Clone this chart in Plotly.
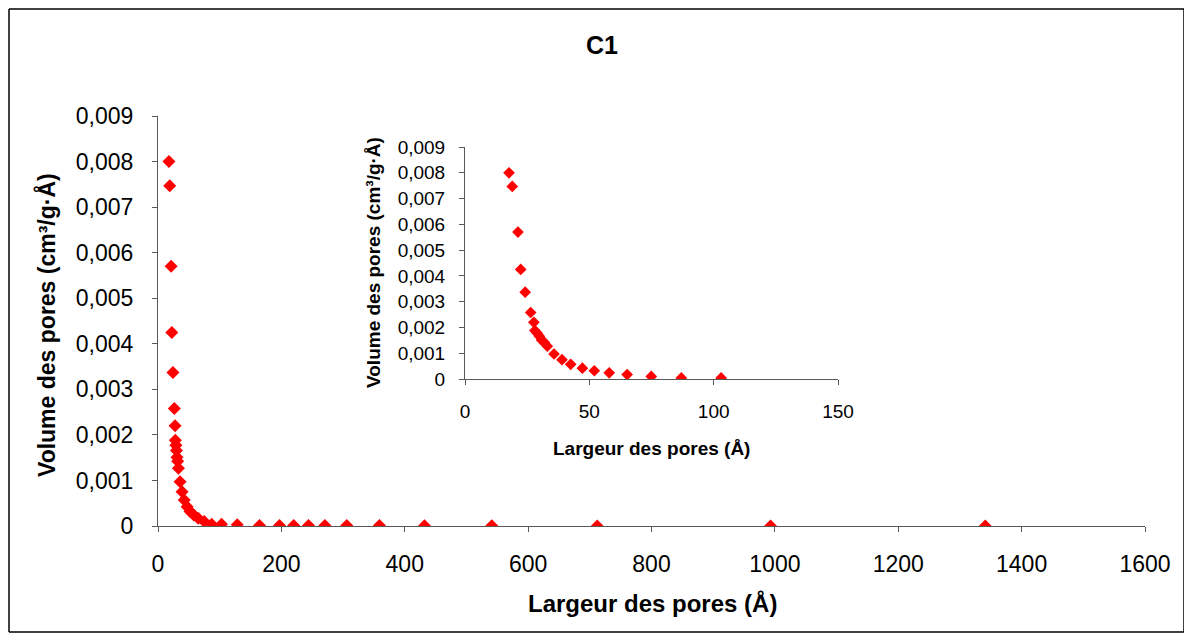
import plotly.graph_objects as go

# ---- data ----
pore_width = [17.7, 19.0, 21.3, 22.4, 24.2, 26.4, 27.7, 28.1, 29.1, 29.9, 30.8, 31.9,
              33.1, 35.8, 39.0, 42.5, 47.2, 52.0, 58.0, 65.2, 74.9, 87.0, 103.0,
              128.5, 164.5, 197.0, 220.0, 244.0, 270.5, 306.0, 359.0, 432.0, 541.0,
              712.0, 993.0, 1341.0]
pore_volume = [0.00800, 0.00747, 0.00570, 0.00425, 0.00337, 0.00258, 0.00220, 0.00188,
               0.00177, 0.00166, 0.00151, 0.00142, 0.00127, 0.00097, 0.00075, 0.00057,
               0.00042, 0.00032, 0.00024, 0.00017, 0.00010, 0.00004, 0.00004,
               0.00003, 0.00001, 0.00001, 0.00001, 0.00001, 0.00001, 0.00001,
               0.00001, 0.000005, 0.000003, 0.000002, 0.000001, 0.000001]
inset_max_width = 110  # the inset only shows the first points

y_tickvals = [0, 0.001, 0.002, 0.003, 0.004, 0.005, 0.006, 0.007, 0.008, 0.009]
y_ticktext = ["0", "0,001", "0,002", "0,003", "0,004", "0,005", "0,006", "0,007", "0,008", "0,009"]
x_main_ticks = [0, 200, 400, 600, 800, 1000, 1200, 1400, 1600]
x_inset_ticks = [0, 50, 100, 150]

title_text = "C1"
x_title = "Largeur des pores (Å)"
y_title = "Volume des pores (cm³/g·Å)"

inset_x = [w for w in pore_width if w <= inset_max_width]
inset_y = [v for w, v in zip(pore_width, pore_volume) if w <= inset_max_width]

# ---- layout geometry (pixels, page has an 8px body margin) ----
OFF = 8
W, H = 1192 - OFF, 637 - OFF
L, R, T, B = 158 - OFF, 1145 - OFF, 116 - OFF, 526 - OFF
pw, ph = R - L, B - T


def px(x):
    return (x - OFF - L) / pw


def py(y):
    return (B - (y - OFF)) / ph


FONT = "Liberation Sans, Arial, sans-serif"
AX = "#595959"

fig = go.Figure()
fig.add_trace(go.Scatter(x=pore_width, y=pore_volume, mode="markers",
                         marker=dict(symbol="diamond", size=10, color="#ff0000"),
                         xaxis="x", yaxis="y", showlegend=False))
fig.add_trace(go.Scatter(x=inset_x, y=inset_y, mode="markers",
                         marker=dict(symbol="diamond", size=9, color="#ff0000"),
                         xaxis="x2", yaxis="y2", showlegend=False))

axis_common = dict(showgrid=False, zeroline=False, showline=True, linecolor=AX,
                   linewidth=1, ticks="outside", ticklen=5, tickcolor=AX)

fig.update_layout(
    width=W, height=H,
    margin=dict(l=L, r=W - R, t=T, b=H - B),
    paper_bgcolor="white", plot_bgcolor="white",
    font=dict(family=FONT, color="black"),
    xaxis=dict(domain=[0, 1], range=[0, 1600], tickvals=x_main_ticks,
               tickfont=dict(size=23), ticklabelstandoff=12, anchor="y", **axis_common),
    yaxis=dict(domain=[0, 1], range=[0, 0.009], tickvals=y_tickvals, ticktext=y_ticktext,
               tickfont=dict(size=23), ticklabelstandoff=14, anchor="x", **axis_common),
    xaxis2=dict(domain=[px(465), px(838)], range=[0, 150], tickvals=x_inset_ticks,
                tickfont=dict(size=19), ticklabelstandoff=10, anchor="y2", **axis_common),
    yaxis2=dict(domain=[py(379), py(147)], range=[0, 0.009], tickvals=y_tickvals,
                ticktext=y_ticktext, tickfont=dict(size=19), ticklabelstandoff=10,
                anchor="x2", **axis_common),
)

ann = [
    dict(text="<b>%s</b>" % title_text, x=px(602), y=py(45), font=dict(size=25)),
    dict(text="<b>%s</b>" % x_title, x=px(652), y=py(603), font=dict(size=24)),
    dict(text="<b>%s</b>" % y_title, x=px(46), y=py(325), font=dict(size=23), textangle=-90),
    dict(text="<b>%s</b>" % x_title, x=px(651), y=py(448), font=dict(size=19)),
    dict(text="<b>%s</b>" % y_title, x=px(373), y=py(263), font=dict(size=19), textangle=-90),
]
for a in ann:
    fig.add_annotation(xref="paper", yref="paper", showarrow=False,
                       xanchor="center", yanchor="middle", **a)

# outer chart frame (kept inside the figure)
bx0, bx1, by0, by1 = px(9), px(1184), py(632), py(9)
for x0, y0, x1, y1 in [(bx0, by0, bx0, by1), (bx1, by0, bx1, by1),
                       (bx0, by0, bx1, by0), (bx0, by1, bx1, by1)]:
    fig.add_shape(type="line", xref="paper", yref="paper", x0=x0, y0=y0, x1=x1, y1=y1,
                  line=dict(color="black", width=1.5), layer="above")

fig.write_html("out.html")
